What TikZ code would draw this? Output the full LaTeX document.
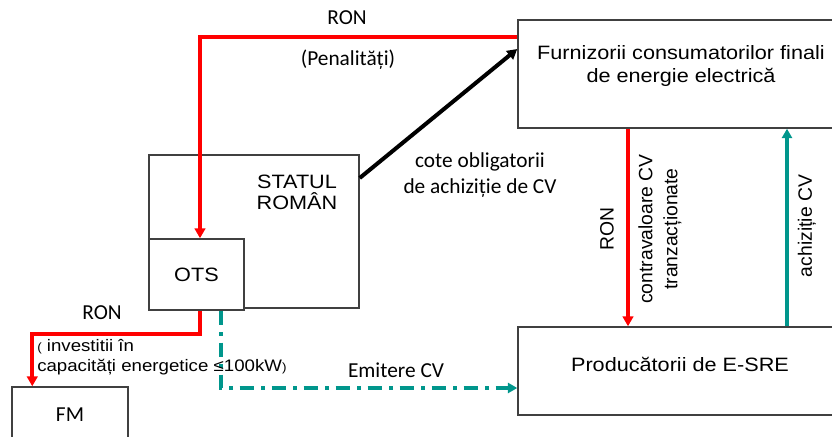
\documentclass[tikz,border=0pt]{standalone}
\usepackage{fontspec}
\setmainfont{Liberation Sans}
\newfontfamily\arw[FakeStretch=1.12]{Liberation Sans}
\newfontfamily\clb{Carlito}
\usetikzlibrary{arrows.meta,calc}
\definecolor{redc}{RGB}{255,0,0}
\definecolor{tealc}{RGB}{0,150,140}
\begin{document}
\begin{tikzpicture}[x=0.75pt,y=-0.75pt,
  box/.style={draw=black!75,line width=1.1pt,inner sep=0pt,fill=white},
  boxtext/.style={font=\arw\fontsize{14.5}{17}\selectfont,inner sep=0pt,align=center},
  lbl/.style={font=\clb\fontsize{16}{19.5}\selectfont,inner sep=0pt,align=center},
  rotlbl/.style={font=\fontsize{14.5}{18.75}\selectfont,inner sep=0pt,align=center,rotate=90},
  redarrow/.style={draw=redc,line width=3pt,-{Triangle[length=7.5pt,width=8pt]}},
  tealarrow/.style={draw=tealc,line width=2.4pt,-{Triangle[length=7pt,width=7.5pt]}},
  blackarrow/.style={draw=black,line width=3pt,-{Triangle[length=7.5pt,width=8pt]}}]
\useasboundingbox (0,0) rectangle (832,436);
% boxes
\node[box,minimum width=326*0.75pt,minimum height=108*0.75pt] (furn) at (681,74) {};
\node[box,minimum width=326*0.75pt,minimum height=88*0.75pt] (prod) at (681,371) {};
\node[box,minimum width=210*0.75pt,minimum height=153*0.75pt] (statul) at (254,231.5) {};
\node[box,minimum width=95*0.75pt,minimum height=71*0.75pt,boxtext] (ots) at (196.5,274.5) {OTS};
\node[box,minimum width=116*0.75pt,minimum height=56*0.75pt,lbl] (fm) at (70,415) {FM};
% box texts
\node[boxtext,font=\arw\fontsize{14.5}{17.25}\selectfont] (furntxt) at (681,66) {Furnizorii consumatorilor finali\\de energie electrică};
\node[boxtext] (prodtxt) at (680,364) {Producătorii de E-SRE};
\node[boxtext,font=\arw\fontsize{14.5}{15.75}\selectfont] (statultxt) at (297,192) {STATUL\\ROMÂN};
% connectors
\draw[redarrow] (furn.west |- 0,37) -| ($(ots.north)+(3.5,0)$);
\draw[redarrow] ($(ots.south)+(3.5,0)$) -- ++(0,23) -| ($(fm.north west)+(21,0)$);
\draw[tealarrow,dash pattern=on 11pt off 5pt on 3pt off 5pt,-{Triangle[length=7pt,width=7.5pt]}] ($(ots.south)+(24.5,0)$) |- (prod.west |- 0,388);
\draw[blackarrow] (statul.east |- 0,178) -- (furn.west |- 0,49);
\draw[redarrow] (furn.south -| 628,0) -- (prod.north -| 628,0);
\draw[tealarrow] (prod.north -| 787,0) -- (furn.south -| 787,0);
% labels
\node[lbl] (ron1) at (347,18) {RON};
\node[lbl] (pen) at (348,60) {(Penalități)};
\node[lbl] (cote) at (480,175) {cote obligatorii\\de achiziție de CV};
\node[lbl] (ron2) at (102,313) {RON};
\node[anchor=west,inner sep=0pt,align=left,font=\arw\fontsize{12.5}{15}\selectfont] (inv) at (37,357) {{\fontsize{9}{10}\selectfont(} investitii în\\capacități energetice ≤100kW{\fontsize{9}{10}\selectfont)}};
\node[lbl] (emit) at (396,370) {Emitere CV};
\node[rotlbl] (ron3) at (607,229) {RON};
\node[rotlbl] (contra) at (660,229) {contravaloare CV\\tranzacționate};
\node[rotlbl] (achiz) at (807,226) {achiziție CV};
\end{tikzpicture}
\end{document}
